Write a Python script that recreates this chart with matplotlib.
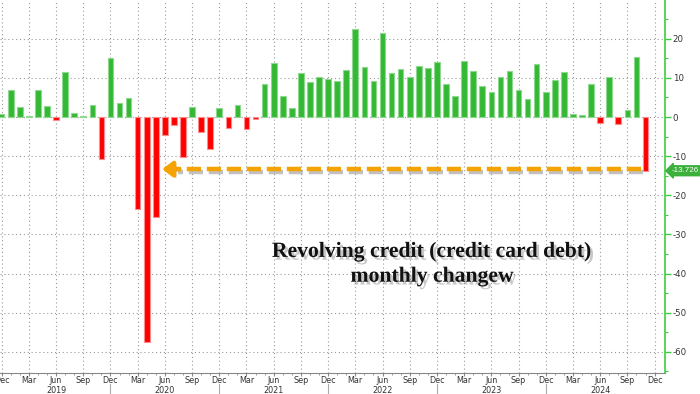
import matplotlib
matplotlib.use("Agg")
import matplotlib.pyplot as plt
import matplotlib.patheffects as pe
import numpy as np
import pandas as pd

# ---- data (monthly change, $bn), Dec 2018 .. Nov 2024 ----
start_month = "2018-12"
values = [
    0.9, 6.8, 2.6, 0.3, 7.0, 2.7, -0.7, 11.4, 1.0, 0.25, 3.1, -10.6,   # Dec18-Nov19
    15.0, 3.6, 4.9, -23.4, -57.5, -25.5, -4.7, -2.1, -10.3, 2.6, -3.9, -8.1,  # Dec19-Nov20
    2.3, -2.7, 3.1, -3.0, -0.5, 8.4, 13.7, 5.4, 2.3, 11.2, 9.0, 10.3,  # Dec20-Nov21
    9.7, 9.2, 12.1, 22.5, 12.7, 9.2, 21.4, 11.2, 12.3, 10.2, 13.1, 12.5,  # Dec21-Nov22
    14.0, 8.5, 5.4, 14.3, 11.7, 7.9, 6.4, 10.1, 11.7, 6.9, 4.6, 13.6,  # Dec22-Nov23
    6.4, 9.5, 11.4, 0.85, 0.6, 8.4, -1.4, 10.2, -1.8, 1.9, 15.3, -13.726,  # Dec23-Nov24
]
years = ["2019", "2020", "2021", "2022", "2023", "2024"]
last_label = "-13.726"
title_line1 = "Revolving credit (credit card debt)"
title_line2 = "monthly changew"

months = pd.date_range(start_month, periods=len(values) + 1, freq="MS")
x = np.arange(len(values))
vals = np.array(values)

GREEN = "#35b935"
GREEN_EDGE = "#8fd88f"
RED = "#ff0000"
RED_EDGE = "#ff8c8c"
AXIS_GREEN = "#3ccf3c"
ORANGE = "#f5a300"

fig = plt.figure(figsize=(7.0, 3.94), dpi=100)
ax = fig.add_axes([0.0, 0.0533, 0.95, 0.9467])

colors = [GREEN if v >= 0 else RED for v in vals]
edges = [GREEN_EDGE if v >= 0 else RED_EDGE for v in vals]
ax.bar(x, vals, width=0.62, color=colors, edgecolor=edges, linewidth=0.8, zorder=3)

ax.set_xlim(-0.18, 73.15)
ax.set_ylim(-65.4, 29.9)

# y axis on right
ax.yaxis.tick_right()
ax.set_yticks(np.arange(-60, 21, 10))
ax.set_yticks(np.arange(-65, 30, 5), minor=True)
ax.set_yticklabels([f"{int(t)}" for t in np.arange(-60, 21, 10)])
ax.tick_params(axis="y", which="major", length=4, width=1, color=AXIS_GREEN,
               labelsize=6.2, labelcolor="#333333", pad=1.5)
ax.tick_params(axis="y", which="minor", length=2, width=0.8, color=AXIS_GREEN)

# x axis ticks
qtr = np.arange(0, len(values) + 1, 3)
ax.set_xticks(qtr)
ax.set_xticklabels([months[i].strftime("%b") for i in qtr])
ax.set_xticks(np.arange(0, len(values) + 1, 1), minor=True)
ax.tick_params(axis="x", which="major", length=2, width=0.8, color="#888888",
               labelsize=5.8, labelcolor="#333333", pad=0.5)
ax.tick_params(axis="x", which="minor", length=1.5, width=0.6, color="#888888")

for s in ["left", "top"]:
    ax.spines[s].set_visible(False)
ax.spines["right"].set_color(AXIS_GREEN)
ax.spines["right"].set_linewidth(1.2)
ax.spines["bottom"].set_color("#888888")
ax.spines["bottom"].set_linewidth(0.8)

ax.grid(True, which="major", axis="both", color="#9a9a9a",
        linestyle=(0, (1, 2.5)), linewidth=0.8, zorder=0)
ax.set_axisbelow(True)

# year labels and separators
trans = ax.get_xaxis_transform()
for k, yr in enumerate(years):
    ax.text(6 + 12 * k, -0.047, yr, transform=trans, ha="center", va="center",
            fontsize=5.8, color="#333333")
for k in range(1, len(years)):
    ax.plot([12 * k, 12 * k], [-0.03, -0.06], transform=trans, color="#aaaaaa",
            lw=0.8, clip_on=False)

# orange dashed arrow at latest value
yv = vals[-1] + 0.4
shadow = [pe.SimpleLineShadow(offset=(1.5, -2), shadow_color="#777777", alpha=0.45),
          pe.Normal()]
ax.plot([x[-1] - 0.55, 19.2], [yv, yv], color=ORANGE, lw=3.2,
        linestyle=(0, (3.2, 1.3)), zorder=4, path_effects=shadow)
ax.annotate("", xy=(17.7, yv), xytext=(19.6, yv),
            arrowprops=dict(arrowstyle="-|>,head_length=0.6,head_width=0.45",
                            color=ORANGE, lw=3.2, shrinkA=0, shrinkB=0,
                            path_effects=[pe.withSimplePatchShadow(offset=(1.5, -2),
                                          shadow_rgbFace="#777777", alpha=0.45)]),
            zorder=4)

# last-value label box
ax.annotate(last_label, xy=(1.0, vals[-1]), xycoords=("axes fraction", "data"),
            xytext=(4.5, 0), textcoords="offset points", ha="left", va="center",
            fontsize=5.8, fontfamily="Liberation Sans", color="white",
            annotation_clip=False,
            bbox=dict(boxstyle="larrow,pad=0.18", fc="#3bb03b", ec="#3bb03b"))

# title text with shadow
tfx = [pe.SimplePatchShadow(offset=(2, -2), shadow_rgbFace="#777777", alpha=0.4),
       pe.Normal()]
fig.text(0.616, 0.348, title_line1, ha="center", va="baseline",
         fontfamily="Liberation Serif", fontweight="bold", fontsize=15.6,
         color="#111111", path_effects=tfx)
fig.text(0.617, 0.285, title_line2, ha="center", va="baseline",
         fontfamily="Liberation Serif", fontweight="bold", fontsize=15.6,
         color="#111111", path_effects=tfx)

fig.savefig("out.png", dpi=100)
